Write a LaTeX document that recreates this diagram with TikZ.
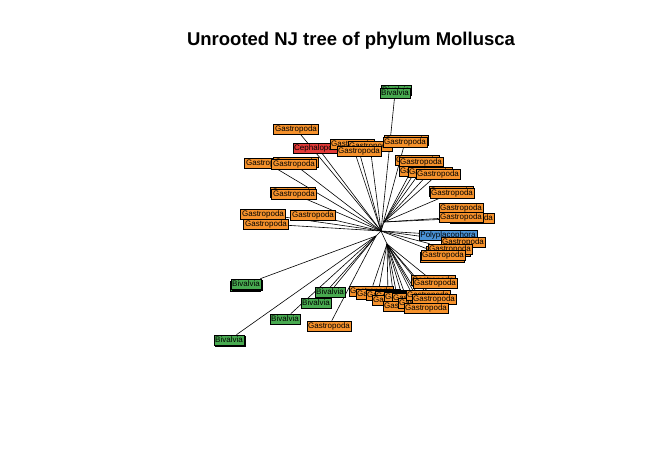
\documentclass[tikz,border=0pt]{standalone}
\usepackage{fontspec}
\setmainfont{Liberation Sans}
\usetikzlibrary{backgrounds}
\definecolor{gasorange}{RGB}{246,146,44}
\definecolor{bivgreen}{RGB}{72,170,80}
\definecolor{cephred}{RGB}{226,58,56}
\definecolor{polyblue}{RGB}{74,146,214}
\tikzset{
  tip/.style={draw,rectangle,line width=0.6pt,inner sep=1.3pt,minimum height=10pt,font=\fontsize{8}{8}\selectfont},
  gas/.style={tip,fill=gasorange},
  biv/.style={tip,fill=bivgreen},
  ceph/.style={tip,fill=cephred},
  poly/.style={tip,fill=polyblue},
  branch/.style={line width=0.6pt}
}
\begin{document}
\begin{tikzpicture}[x=1pt,y=-1pt]
  \useasboundingbox (0,0) rectangle (662,449);
  \node[font=\bfseries\fontsize{18.5}{20}\selectfont] (title) at (351,41) {Unrooted NJ tree of phylum Mollusca};
  % internal nodes
  \coordinate (c) at (381,231);
  \coordinate (cu) at (384,222);
  \coordinate (cb) at (387,244);
  \coordinate (cl) at (376,236);
  % top and left tips
  \node[biv] (b1s) at (396,90) {Bivalvia};
  \node[biv] (b1) at (395,93) {Bivalvia};
  \node[gas] (g1) at (296,129) {Gastropoda};
  \node[ceph] (ce) at (318,148) {Cephalopoda};
  \foreach \n/\x/\y in {a/352/144,b/370/146,c/359/151,d/406/140,e/405/142,
      f/267/163,g/296/162,h/294/164,i/293/192,j/294/194,
      k/263/214,l/266/224,m/313/215}
    \node[gas] (g\n) at (\x,\y) {Gastropoda};
  % right tips
  \foreach \n/\x/\y in {n/417/160,o/421/162,p/421/171,q/430/172,r/438/174,
      s/451/191,t/452/193,u/461/208,v/472/218,w/461/217}
    \node[gas] (g\n) at (\x,\y) {Gastropoda};
  \node[poly] (pl) at (448,235) {Polyplacophora};
  \foreach \n/\x/\y in {x/463/242,y/448/251,z/450/249,A/442/257,B/443/255}
    \node[gas] (g\n) at (\x,\y) {Gastropoda};
  % bottom tips
  \node[biv] (b2s) at (245,286) {Bivalvia};
  \node[biv] (b2t) at (247,285) {Bivalvia};
  \node[biv] (b2) at (246,284) {Bivalvia};
  \node[biv] (b3s) at (230,341) {Bivalvia};
  \node[biv] (b3) at (229,340) {Bivalvia};
  \node[biv] (b4) at (330,292) {Bivalvia};
  \node[biv] (b5) at (316,303) {Bivalvia};
  \node[biv] (b6) at (285,319) {Bivalvia};
  \node[gas] (gC) at (329,326) {Gastropoda};
  \foreach \n/\x/\y in {D/371/291,E/378/294,F/388/295,G/397/296,H/394/300,
      I/406/297,J/414/298,K/405/306,L/420/303,M/428/295,N/434/299,
      O/426/308,P/433/280,Q/435/283}
    \node[gas] (g\n) at (\x,\y) {Gastropoda};
  % branches
  \begin{scope}[on background layer]
    \draw[branch] (c) -- (cu) (c) -- (cb) (c) -- (cl);
    \foreach \t in {b1,g1,ce,ga,gb,gc,ge,gf,gh,gj,gk,gl,gm}
      \draw[branch] (c) -- (\t);
    \foreach \t in {gn,go,gp,gq,gr,gt,gw,gv}
      \draw[branch] (cu) -- (\t);
    \foreach \t in {pl,gx,gz,gB}
      \draw[branch] (c) -- (\t);
    \foreach \t in {b2,b3,b4,b5,b6,gC}
      \draw[branch] (cl) -- (\t);
    \foreach \t in {gD,gE,gF,gG,gH,gI,gJ,gK,gL,gM,gN,gO,gQ}
      \draw[branch] (cb) -- (\t);
  \end{scope}
\end{tikzpicture}
\end{document}
